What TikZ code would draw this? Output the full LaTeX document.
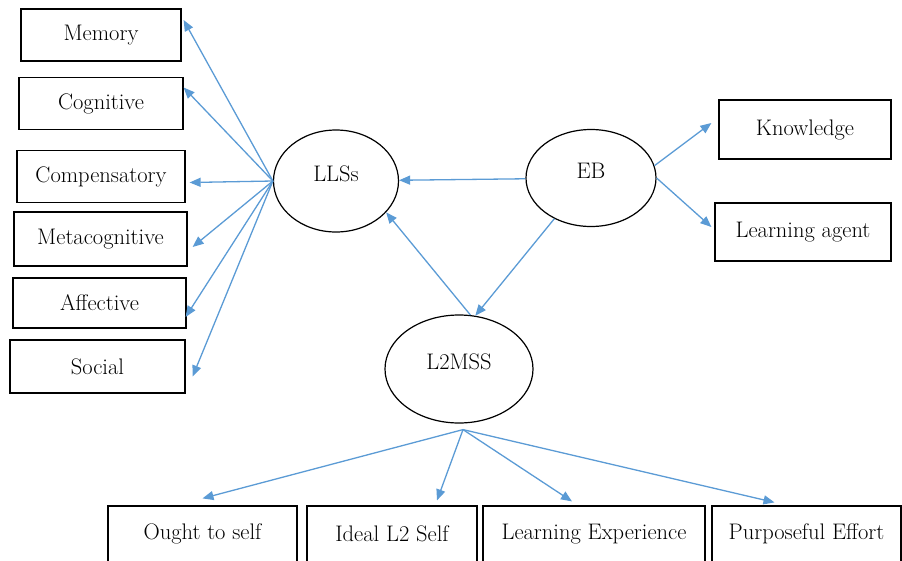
\documentclass[tikz,border=0pt]{standalone}
\usetikzlibrary{shapes.geometric,arrows.meta}

\definecolor{linkblue}{HTML}{5B9BD5}

\begin{document}
\begin{tikzpicture}[x=1pt,y=-1pt,
    box/.style={rectangle,draw,line width=1.2pt,inner sep=0pt,minimum height=52pt},
    latent/.style={ellipse,draw,line width=1.2pt,inner sep=0pt,text height=8pt,text depth=8pt},
    link/.style={draw=linkblue,line width=1.3pt,-{Triangle[length=11pt,width=9pt]}}]

        \useasboundingbox (0,0) rectangle (902,560);
        \clip (0,0) rectangle (902,560);

        \begin{scope}[every node/.style={font=\fontsize{22.5}{27}\selectfont}]
          \node[box,minimum width=160pt] (memory)  at (101,35)    {Memory};
          \node[box,minimum width=164pt] (cogn)    at (101,103.5) {Cognitive};
          \node[box,minimum width=168pt] (comp)    at (101,176.5) {Compensatory};
          \node[box,minimum width=173pt,minimum height=54pt] (meta) at (100.5,239) {Metacognitive};
          \node[box,minimum width=173pt,minimum height=50pt] (affect) at (99.5,303) {Affective};
          \node[box,minimum width=175pt,minimum height=53pt] (social) at (97.5,366.5) {Social};

          \node[latent,minimum width=125pt,minimum height=102pt] (lls)  at (336,181) {LLSs};
          \node[latent,minimum width=130pt,minimum height=97pt]  (eb)   at (591,178) {EB};
          \node[latent,minimum width=148pt,minimum height=108pt] (l2m)  at (459,369) {L2MSS};

          \node[box,minimum width=172pt,minimum height=59pt] (know)  at (805,129.5) {Knowledge};
          \node[box,minimum width=176pt,minimum height=58pt] (agent) at (803,232)   {Learning agent};

          \node[box,minimum width=189pt,minimum height=56pt] (ought)   at (202.5,534) {Ought to self};
          \node[box,minimum width=170pt,minimum height=56pt] (ideal)   at (392,534)   {Ideal L2 Self};
          \node[box,minimum width=222pt,minimum height=56pt] (learnex) at (594,534)   {Learning Experience};
          \node[box,minimum width=189pt,minimum height=56pt] (effort)  at (806.5,534) {Purposeful Effort};
        \end{scope}

        \coordinate (fan) at ([xshift=4pt,yshift=-6pt]l2m.south);

        \begin{scope}[every edge/.style={link}]
          % LLSs to the six strategies
          \path (lls.west) edge ([xshift=2pt,yshift=15pt]memory.east);
          \path (lls.west) edge ([yshift=16pt]cogn.east);
          \path (lls.west) edge ([xshift=4pt,yshift=-6pt]comp.east);
          \path (lls.west) edge ([xshift=5pt,yshift=-8pt]meta.east);
          \path (lls.west) edge ([xshift=-1pt,yshift=-14pt]affect.east);
          \path (lls.west) edge ([xshift=7pt,yshift=-10pt]social.east);

          % EB
          \path (eb) edge (lls);
          \path (eb.228) edge (l2m.73);
          \path (eb.11) edge ([xshift=-7pt,yshift=6.5pt]know.west);
          \path (eb.0) edge ([xshift=-3pt,yshift=5pt]agent.west);

          % L2MSS
          \path (l2m.78) edge (lls.328);
          \path (fan) edge ([yshift=7pt]ought.north);
          \path (fan) edge ([xshift=45pt,yshift=5pt]ideal.north);
          \path (fan) edge ([xshift=-22pt,yshift=4pt]learnex.north);
          \path (fan) edge ([xshift=-32pt,yshift=3pt]effort.north);
        \end{scope}

      \end{tikzpicture}
\end{document}
